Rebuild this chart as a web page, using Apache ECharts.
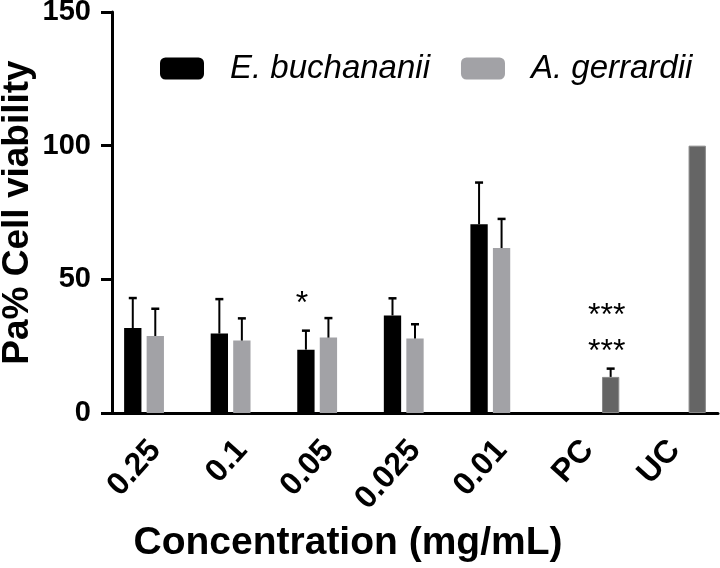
<!DOCTYPE html>
<html>
<head>
<meta charset="utf-8">
<script src="https://cdn.jsdelivr.net/npm/echarts@6/dist/echarts.min.js"></script>
<style>html,body{margin:0;padding:0;background:#fff;}#chart{width:720px;height:568px;}</style>
</head>
<body>
<div id="chart"></div>
<script>
var categories = ['0.25', '0.1', '0.05', '0.025', '0.01', 'PC', 'UC'];
var ebuchanaii = [31.8, 29.7, 23.7, 36.5, 70.6, null, null];
var ebuchanaiiErr = [11.2, 12.9, 7.1, 6.4, 15.6, null, null];
var agerrardii = [28.8, 27.1, 28.2, 27.9, 61.7, null, null];
var agerrardiiErr = [10.2, 8.3, 7.3, 5.3, 10.9, null, null];
var controls = [null, null, null, null, null, 13.5, 100];
var controlsErr = [null, null, null, null, null, 3.1, null];
var yTicks = [0, 50, 100, 150];
var annotations = [
  { cat: 2, slot: 0, y: 43.4, text: '*' },
  { cat: 5, slot: 2, y: 38.7, text: '***' },
  { cat: 5, slot: 2, y: 25.3, text: '***' }
];

var CAT_GAP = 0.28, BAR_GAP = 0.3, NBARS = 3;
function slotOffset(api, slot) {
  var cw = api.size([1, 0])[0];
  var bw = cw * (1 - CAT_GAP) / (NBARS + (NBARS - 1) * BAR_GAP);
  return (slot - (NBARS - 1) / 2) * bw * (1 + BAR_GAP);
}
function errData(vals, errs) {
  var out = [];
  vals.forEach(function (v, i) { if (v != null && errs[i] != null) out.push([i, v, errs[i]]); });
  return out;
}
function errSeries(slot, vals, errs) {
  return {
    type: 'custom', z: 5, silent: true,
    data: errData(vals, errs),
    renderItem: function (params, api) {
      var off = slotOffset(api, slot);
      var p0 = api.coord([api.value(0), api.value(1)]);
      var p1 = api.coord([api.value(0), api.value(1) + api.value(2)]);
      var x = p0[0] + off;
      return {
        type: 'group',
        children: [
          { type: 'line', shape: { x1: x, y1: p0[1], x2: x, y2: p1[1] }, style: { stroke: '#000', lineWidth: 2 } },
          { type: 'line', shape: { x1: x - 4, y1: p1[1], x2: x + 4, y2: p1[1] }, style: { stroke: '#000', lineWidth: 2.5 } }
        ]
      };
    }
  };
}

var FONT = 'Liberation Sans, Arial, sans-serif';
var chart = echarts.init(document.getElementById('chart'));
var option = {
  animation: false,
  grid: { left: 112, right: 2, top: 12, bottom: 155, containLabel: false, outerBoundsMode: 'none' },
  legend: {
    data: ['E. buchananii', 'A. gerrardii'],
    left: 160, top: 52, padding: 0,
    itemWidth: 44, itemHeight: 22, itemGap: 31,
    icon: 'roundRect',
    textStyle: { fontFamily: FONT, fontStyle: 'italic', fontSize: 33, color: '#000', padding: [0, 0, 0, 21] }
  },
  xAxis: {
    type: 'category', data: categories,
    name: 'Concentration (mg/mL)', nameLocation: 'middle', nameGap: 111, nameMoveOverlap: false,
    nameTextStyle: { fontFamily: FONT, fontWeight: 'bold', fontSize: 39, color: '#000', padding: [0, 134, 0, 0] },
    axisLine: { lineStyle: { color: '#000', width: 3 } },
    axisTick: { alignWithLabel: true, length: 11, lineStyle: { color: '#000', width: 3 } },
    axisLabel: { interval: 0, rotate: 48, margin: 32, fontFamily: FONT, fontWeight: 'bold', fontSize: 32, color: '#000' }
  },
  yAxis: {
    type: 'value', min: 0, max: 150, interval: 50,
    name: 'Pa% Cell viability', nameLocation: 'middle', nameGap: 76, nameRotate: 90, nameMoveOverlap: false,
    nameTextStyle: { fontFamily: FONT, fontWeight: 'bold', fontSize: 37, color: '#000' },
    axisLine: { show: true, lineStyle: { color: '#000', width: 3 } },
    axisTick: { show: true, length: 11, lineStyle: { color: '#000', width: 3 } },
    splitLine: { show: false },
    axisLabel: {
      margin: 21, fontFamily: FONT, fontWeight: 'bold', fontSize: 29, color: '#000',
      formatter: function (v) { return yTicks.indexOf(v) >= 0 ? String(v) : ''; }
    }
  },
  series: [
    { name: 'E. buchananii', type: 'bar', data: ebuchanaii, barGap: '30%', barCategoryGap: '28%', itemStyle: { color: '#000000' } },
    { name: 'A. gerrardii', type: 'bar', data: agerrardii, barGap: '30%', barCategoryGap: '28%', itemStyle: { color: '#a2a2a6' } },
    { name: 'Control', type: 'bar', data: controls, barGap: '30%', barCategoryGap: '28%', itemStyle: { color: '#656565', borderColor: '#8a8a8a', borderWidth: 1 } },
    errSeries(0, ebuchanaii, ebuchanaiiErr),
    errSeries(1, agerrardii, agerrardiiErr),
    errSeries(2, controls, controlsErr),
    {
      type: 'custom', z: 6, silent: true,
      data: annotations.map(function (a) { return [a.cat, a.y, a.slot]; }),
      renderItem: function (params, api) {
        var a = annotations[params.dataIndex];
        var p = api.coord([api.value(0), api.value(1)]);
        return {
          type: 'text',
          style: { text: a.text, x: p[0] + slotOffset(api, api.value(2)) - 4, y: p[1] + 7, align: 'center', verticalAlign: 'middle',
                   fontFamily: FONT, fontSize: 32, fill: '#000' }
        };
      }
    }
  ]
};
chart.setOption(option);
</script>
</body>
</html>
